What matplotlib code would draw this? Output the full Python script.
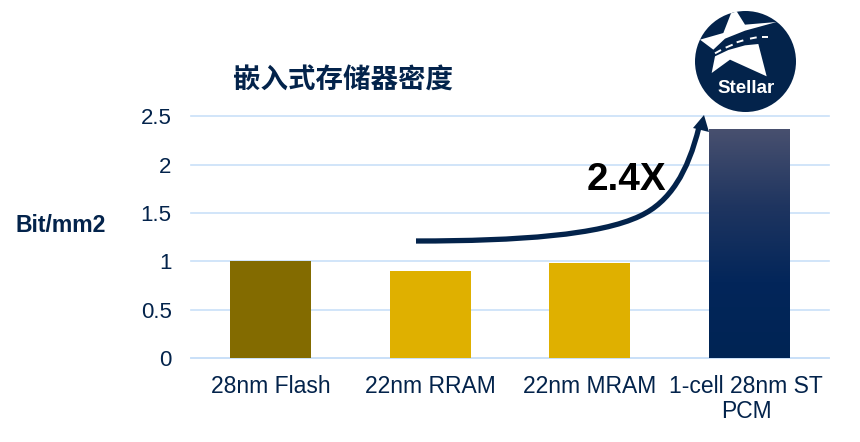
import numpy as np
import matplotlib
matplotlib.use("Agg")
import matplotlib.pyplot as plt
from matplotlib.patches import Circle, Polygon, PathPatch
from matplotlib.path import Path
from matplotlib.colors import LinearSegmentedColormap
from matplotlib.transforms import ScaledTranslation

plt.rcParams['font.family'] = ['Liberation Sans', 'Noto Sans CJK SC', 'DejaVu Sans']

categories = ['28nm Flash', '22nm RRAM', '22nm MRAM', '1-cell 28nm ST\nPCM']
values = [1.0, 0.9, 0.98, 2.37]
bar_colors = ['#836b00', '#dfb000', '#dfb000', '#002454']
y_ticks = [0, 0.5, 1, 1.5, 2, 2.5]
y_labels = ['0', '0.5', '1', '1.5', '2', '2.5']
title = '嵌入式存储器密度'
y_title = 'Bit/mm2'
factor = '2.4X'

NAVY = '#03234b'
GRID = '#c9e0f8'
W, H = 860, 442
fig = plt.figure(figsize=(W / 100, H / 100), dpi=100, facecolor='white')

L, R, T, B = 191, 829, 116.5, 358
ax = fig.add_axes([L / W, 1 - B / H, (R - L) / W, (B - T) / H])
x = np.arange(len(categories))
bars = ax.bar(x, values, width=0.505, color=bar_colors, zorder=3)
ax.set_xlim(-0.5, 3.5)
ax.set_ylim(0, 2.5)
ax.set_yticks(y_ticks, y_labels)
ax.set_xticks(x, categories)
ax.tick_params(axis='both', length=0, labelcolor=NAVY)
ax.tick_params(axis='y', pad=14, labelsize=16)
ax.tick_params(axis='x', pad=12.5, labelsize=16.5)
ax.grid(axis='y', color=GRID, lw=1.2, zorder=0)
for g in ax.get_ygridlines():
    g.set_clip_on(False)
ax.set_axisbelow(True)
for s in ['top', 'right', 'left']:
    ax.spines[s].set_visible(False)
ax.spines['bottom'].set_color(GRID)
ax.spines['bottom'].set_linewidth(1.2)
for t in ax.get_xticklabels():
    t.set_linespacing(1.1)
last = ax.get_xticklabels()[3]
last.set_transform(last.get_transform() + ScaledTranslation(-3 / 100, 0, fig.dpi_scale_trans))

# gradient on the last bar
b = bars[3]
cmap = LinearSegmentedColormap.from_list('g', ['#48506f', '#1f3560', '#03265a', '#002454'])
im = ax.imshow(np.linspace(0, 1, 256).reshape(-1, 1), cmap=cmap, aspect='auto',
               extent=[b.get_x(), b.get_x() + b.get_width(), 0, b.get_height()],
               origin='upper', zorder=4)
im.set_clip_path(b)
ax.set_xlim(-0.5, 3.5)
ax.set_ylim(0, 2.5)

# overlay in pixel coordinates
ov = fig.add_axes([0, 0, 1, 1], facecolor='none')
ov.set_xlim(0, W)
ov.set_ylim(H, 0)
ov.axis('off')

ov.text(343.5, 81, title, fontsize=19.8, fontweight='bold', color=NAVY, ha='center', va='center',
        family=['Noto Sans CJK SC', 'DejaVu Sans'])
ov.text(61, 226, y_title, fontsize=16.6, fontweight='bold', color=NAVY, ha='center', va='center')
ov.text(626, 180, factor, fontsize=27.8, fontweight='bold', color='black', ha='center', va='center')

# growth arrow
verts = [(416, 241), (520, 241), (600, 235), (640, 216), (670, 202), (688, 172), (699, 127)]
codes = [Path.MOVETO, Path.CURVE4, Path.CURVE4, Path.CURVE4, Path.CURVE4, Path.CURVE4, Path.CURVE4]
ov.add_patch(PathPatch(Path(verts, codes), fc='none', ec=NAVY, lw=3.8, capstyle='butt', zorder=6))
ov.add_patch(Polygon([(704, 115), (709, 132), (693, 128)], fc=NAVY, ec='none', zorder=6))

# logo (coordinates follow the zoomed crop: px = 695 + zx/3, py = 8 + zy/3)
def z(points):
    return [(695 + a / 3, 8 + c / 3) for a, c in points]

ov.add_patch(Circle((745.5, 61.5), 50.5, fc=NAVY, ec='none', zorder=7))
ov.add_patch(Polygon(z([(108, 16), (85, 75), (15, 95), (55, 125), (90, 92), (150, 68),
                        (245, 42), (150, 50), (125, 10)]), fc='white', ec='none', zorder=8))
ov.add_patch(Polygon(z([(60, 145), (50, 195), (105, 155), (215, 205), (190, 108),
                        (150, 112), (100, 126)]), fc='white', ec='none', zorder=8))
for seg in [[(60, 136), (78, 126)], [(92, 119), (113, 110)], [(125, 103), (145, 97)],
            [(165, 92), (185, 88)], [(200, 87), (220, 87)]]:
    ov.plot(*zip(*z(seg)), color='white', lw=1.4, zorder=9, solid_capstyle='butt')
ov.text(746.5, 88.5, 'Stellar', fontsize=13.5, fontweight='bold', color='white', ha='center',
        va='center', zorder=9)

fig.savefig('out.png', dpi=100)
